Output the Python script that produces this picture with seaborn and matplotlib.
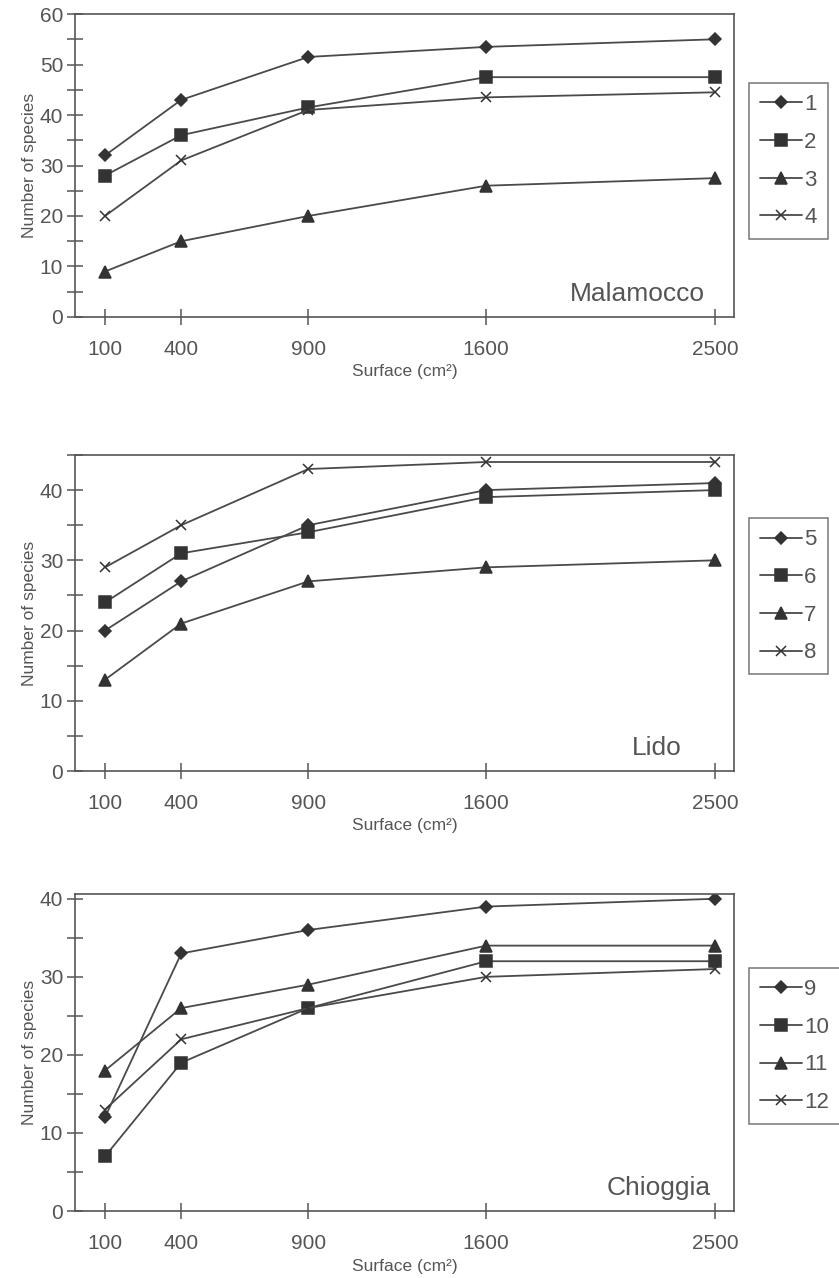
import numpy as np
import matplotlib
matplotlib.use("Agg")
import matplotlib.pyplot as plt
import seaborn as sns
from matplotlib.ticker import MultipleLocator

# surface sampled (cm2)
SURFACE = [100, 400, 900, 1600, 2500]

# Malamocco
MAL_LABELS = ['1', '2', '3', '4']
MAL_1 = [32, 43, 51.5, 53.5, 55]
MAL_2 = [28, 36, 41.5, 47.5, 47.5]
MAL_3 = [9, 15, 20, 26, 27.5]
MAL_4 = [20, 31, 41, 43.5, 44.5]

# Lido
LIDO_LABELS = ['5', '6', '7', '8']
LIDO_5 = [20, 27, 35, 40, 41]
LIDO_6 = [24, 31, 34, 39, 40]
LIDO_7 = [13, 21, 27, 29, 30]
LIDO_8 = [29, 35, 43, 44, 44]

# Chioggia
CHI_LABELS = ['9', '10', '11', '12']
CHI_9 = [12, 33, 36, 39, 40]
CHI_10 = [7, 19, 26, 32, 32]
CHI_11 = [18, 26, 29, 34, 34]
CHI_12 = [13, 22, 26, 30, 31]

LINE_C = '#4a4a4a'
TEXT_C = '#555555'
MARKERS = [('D', 6.5), ('s', 8.5), ('^', 8), ('x', 7.5)]

sns.set_style('white')
plt.rcParams['font.family'] = ['Liberation Sans', 'DejaVu Sans']


def draw_panel(ax, series, labels, site, ymax, text_x, legend_y):
    for vals, lab, (m, ms) in zip(series, labels, MARKERS):
        sns.lineplot(x=SURFACE, y=vals, ax=ax, color=LINE_C, linewidth=1.3,
                     marker=m, markersize=ms, mec='#333333', mfc='#333333',
                     mew=1.1, label=lab)
    ax.set_xlim(-18, 2575)
    ax.set_ylim(0, ymax)
    ax.set_xticks(SURFACE)
    ax.yaxis.set_major_locator(MultipleLocator(10))
    ax.yaxis.set_minor_locator(MultipleLocator(5))
    ax.tick_params(axis='both', which='both', direction='inout', length=11,
                   width=1.1, color=TEXT_C, labelcolor=TEXT_C, labelsize=15,
                   bottom=True, left=True)
    ax.tick_params(axis='x', pad=11)
    ax.tick_params(axis='y', pad=3)
    for s in ax.spines.values():
        s.set_color(TEXT_C)
        s.set_linewidth(1.2)
    ax.set_xlabel('Surface (cm²)', color=TEXT_C, fontsize=12.5, labelpad=4)
    ax.set_ylabel('Number of species', color=TEXT_C, fontsize=12.5, labelpad=2)
    ax.text(text_x, 0.035, site, transform=ax.transAxes, ha='right', va='bottom',
            fontsize=19, color=TEXT_C)
    ax.legend(loc='upper left', bbox_to_anchor=(1.022, legend_y), frameon=True,
              fancybox=False, edgecolor=TEXT_C, fontsize=16, labelspacing=0.75,
              handlelength=1.9, handletextpad=0.1, borderpad=0.5,
              borderaxespad=0, labelcolor=TEXT_C)
    ax.get_legend().get_frame().set_linewidth(1.1)


fig = plt.figure(figsize=(8.39, 12.78), dpi=100)
ax1 = fig.add_axes([0.0894, 0.752, 0.7855, 0.237])
ax2 = fig.add_axes([0.0894, 0.3967, 0.7855, 0.2473])
ax3 = fig.add_axes([0.0894, 0.0524, 0.7855, 0.248])

draw_panel(ax1, [MAL_1, MAL_2, MAL_3, MAL_4], MAL_LABELS, 'Malamocco', 60, 0.956, 0.772)
draw_panel(ax2, [LIDO_5, LIDO_6, LIDO_7, LIDO_8], LIDO_LABELS, 'Lido', 45, 0.92, 0.80)
draw_panel(ax3, [CHI_9, CHI_10, CHI_11, CHI_12], CHI_LABELS, 'Chioggia', 40.6, 0.965, 0.767)

fig.savefig('out.png', dpi=100)
plt.close(fig)
